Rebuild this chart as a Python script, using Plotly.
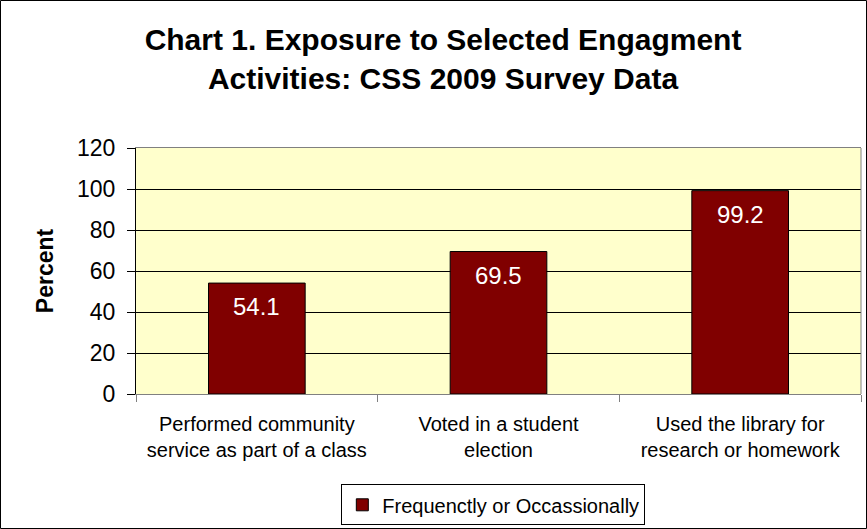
import plotly.graph_objects as go

categories = [
    "Performed community<br>service as part of a class",
    "Voted in a student<br>election",
    "Used the library for<br>research or homework",
]
values = [54.1, 69.5, 99.2]
series_name = "Frequenctly or Occassionally"
y_ticks = [0, 20, 40, 60, 80, 100, 120]

W, H = 867, 529
L, R, T, B = 136, 6, 148, 135
pw, ph = W - L - R, H - T - B
FONT = "Liberation Sans, Arial"

fig = go.Figure()
fig.add_trace(go.Bar(
    x=categories,
    y=values,
    name=series_name,
    marker=dict(color="#800000", line=dict(color="#000000", width=1)),
    width=0.4,
    showlegend=True,
))

# value labels just inside the top of each bar
for c, v in zip(categories, values):
    fig.add_annotation(
        x=c, y=v, xref="x", yref="y",
        text=f"{v:.1f}", showarrow=False,
        yanchor="top", yshift=-8,
        font=dict(color="white", size=24, family=FONT),
    )

fig.update_layout(
    width=W, height=H,
    margin=dict(l=L, r=R, t=T, b=B),
    paper_bgcolor="#FFFFFF",
    plot_bgcolor="#FFFFCC",
    font=dict(family=FONT, color="black"),
    title=dict(
        text="<b>Chart 1. Exposure to Selected Engagment<br>Activities: CSS 2009 Survey Data</b>",
        x=0.511, xanchor="center", y=0.905, yanchor="middle",
        font=dict(size=30, family=FONT),
    ),
    bargap=0.6,
    showlegend=True,
    legend=dict(
        orientation="h",
        x=0.569, xref="container", xanchor="center",
        y=0.007, yref="container", yanchor="bottom",
        bordercolor="black", borderwidth=1,
        font=dict(size=20),
        itemwidth=30,
        bgcolor="white",
    ),
    xaxis=dict(
        showgrid=False,
        ticks="outside", tickson="boundaries", ticklen=7, tickcolor="#808080",
        tickfont=dict(size=20),
        ticklabelstandoff=12,
        showline=True, linecolor="#808080", linewidth=1,
        mirror=True,
    ),
    yaxis=dict(
        range=[0, 120],
        tickvals=y_ticks,
        ticks="outside", ticklen=8, tickcolor="black",
        tickfont=dict(size=23),
        ticklabelstandoff=7,
        showgrid=True, gridcolor="black", gridwidth=1,
        showline=True, linecolor="black", linewidth=1,
        zeroline=False,
        title=dict(text="<b>Percent</b>", font=dict(size=23), standoff=16),
    ),
)

# grey right edge of the plotting area
fig.add_shape(
    type="line", xref="paper", yref="paper",
    x0=1, x1=1, y0=0, y1=1,
    line=dict(color="#808080", width=1), layer="above",
)
# thin frame around the whole chart
fig.add_shape(
    type="rect", xref="paper", yref="paper",
    x0=-(L - 0.5) / pw, x1=1 + (R - 0.5) / pw,
    y0=-(B - 0.5) / ph, y1=1 + (T - 0.5) / ph,
    line=dict(color="black", width=1), fillcolor="rgba(0,0,0,0)",
    layer="above",
)

fig.write_html("out.html")
